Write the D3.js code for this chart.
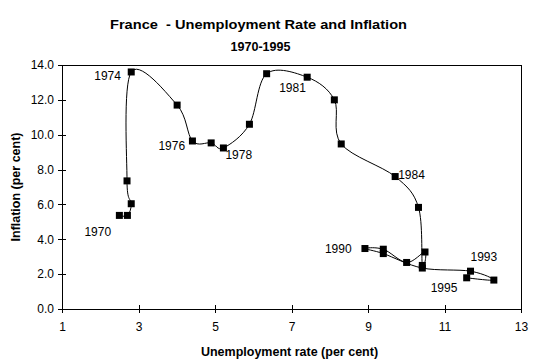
<!DOCTYPE html>
<html><head><meta charset="utf-8">
<script src="https://cdn.jsdelivr.net/npm/d3@7"></script>
<style>body{margin:0;background:#fff}svg{display:block}text{font-family:"Liberation Sans",Arial,sans-serif}</style>
</head><body><svg id="c" width="541" height="364"></svg>
<script>
const years = [1970,1971,1972,1973,1974,1975,1976,1977,1978,1979,1980,1981,1982,1983,1984,1985,1986,1987,1988,1989,1990,1991,1992,1993,1994,1995];
const unemployment = [2.50,2.71,2.81,2.70,2.81,4.01,4.41,4.90,5.22,5.90,6.35,7.41,8.12,8.30,9.71,10.32,10.42,10.49,10.01,9.40,8.92,9.40,10.42,11.68,12.29,11.58];
const inflation = [5.37,5.37,6.04,7.35,13.6,11.7,9.64,9.53,9.24,10.6,13.5,13.3,12.0,9.47,7.6,5.83,2.50,3.27,2.67,3.43,3.47,3.18,2.35,2.17,1.66,1.79];
const labelYears = [1970,1974,1976,1978,1981,1984,1990,1993,1995];
const xTicks = [1,3,5,7,9,11,13];
const yTicks = [0,2,4,6,8,10,12,14];
const titleLines = ["France  - Unemployment Rate and Inflation","1970-1995"];

const svg = d3.select("#c");
const L=62, R=521, T=65, B=309;
const x = d3.scaleLinear().domain([1,13]).range([L,R]);
const y = d3.scaleLinear().domain([0,14]).range([B,T]);

// title
svg.append("text").attr("x",258.5).attr("y",28.5).attr("text-anchor","middle").attr("font-size",12.5).attr("font-weight","bold")
  .attr("xml:space","preserve").style("white-space","pre").attr("textLength",297).attr("lengthAdjust","spacingAndGlyphs").text(titleLines[0]);
svg.append("text").attr("x",260.5).attr("y",51).attr("text-anchor","middle").attr("font-size",12.5).attr("font-weight","bold")
  .attr("textLength",60).attr("lengthAdjust","spacingAndGlyphs").text(titleLines[1]);

// frame
svg.append("rect").attr("x",L).attr("y",T).attr("width",R-L).attr("height",B-T).attr("fill","none").attr("stroke","#000").attr("stroke-width",1).attr("shape-rendering","crispEdges");

// axes
const xa = svg.append("g").attr("transform",`translate(0,${B})`).call(d3.axisBottom(x).tickValues(xTicks).tickFormat(d3.format("d")).tickSizeInner(4).tickSizeOuter(0).tickPadding(9));
xa.selectAll("line").attr("y1",-4);
const ya = svg.append("g").attr("transform",`translate(${L},0)`).call(d3.axisLeft(y).tickValues(yTicks).tickFormat(d3.format(".1f")).tickSizeInner(4).tickSizeOuter(0).tickPadding(4));
ya.selectAll("line").attr("x1",4);
[xa,ya].forEach(a=>{a.select(".domain").attr("stroke","#000").attr("shape-rendering","crispEdges");a.selectAll("line").attr("stroke","#000").attr("shape-rendering","crispEdges");a.selectAll("text").attr("font-size",12).attr("fill","#000").attr("font-family","Liberation Sans, Arial, sans-serif");});

svg.append("text").attr("x",289.5).attr("y",356).attr("text-anchor","middle").attr("font-size",12.5).attr("font-weight","bold").text("Unemployment rate (per cent)");
svg.append("text").attr("transform",`translate(20,${(T+B)/2}) rotate(-90)`).attr("text-anchor","middle").attr("font-size",12.5).attr("font-weight","bold").text("Inflation (per cent)");

const pts = years.map((yr,i)=>({yr, u:unemployment[i], p:inflation[i]}));
const line = d3.line().x(d=>x(d.u)).y(d=>y(d.p)).curve(d3.curveCardinal.tension(0));
svg.append("path").datum(pts).attr("d",line).attr("fill","none").attr("stroke","#000").attr("stroke-width",1);

svg.append("g").selectAll("rect").data(pts).join("rect")
  .attr("x",d=>x(d.u)-3.5).attr("y",d=>y(d.p)-3.5).attr("width",7).attr("height",7).attr("fill","#000");

const offs = {1970:[-35,17],1974:[-37,4],1976:[-34,5],1978:[2,7],1981:[-28,11],1984:[3,-2],1990:[-40,0],1993:[0,-14],1995:[-36,10]};
svg.append("g").selectAll("text").data(pts.filter(d=>labelYears.includes(d.yr))).join("text")
  .attr("x",d=>x(d.u)+offs[d.yr][0]).attr("y",d=>y(d.p)+offs[d.yr][1]+4)
  .attr("font-size",12).text(d=>d.yr);
</script></body></html>
